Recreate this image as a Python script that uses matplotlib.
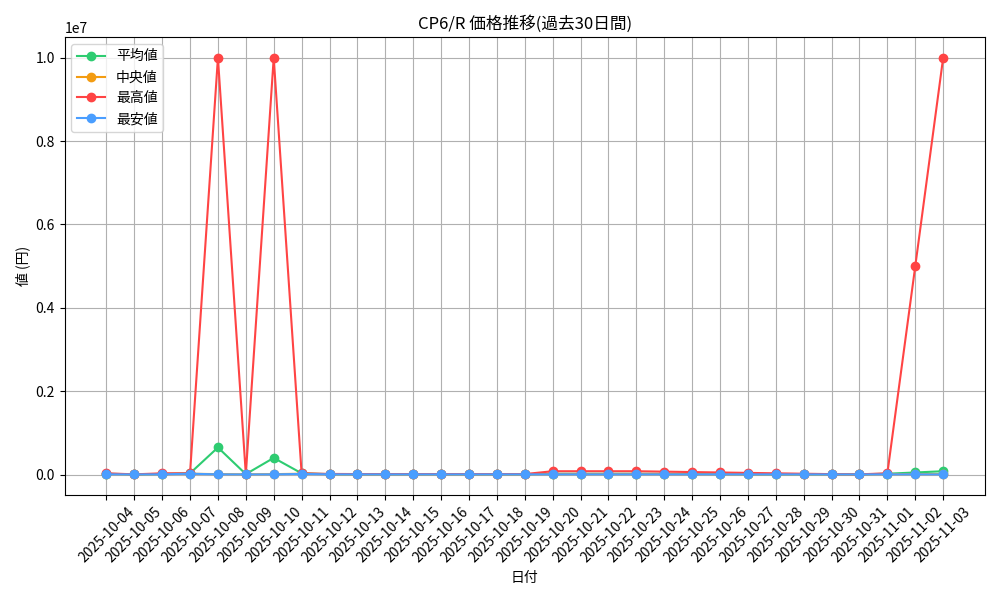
import matplotlib
matplotlib.use("Agg")
import matplotlib.pyplot as plt

plt.rcParams['font.family'] = ['Noto Sans CJK JP', 'DejaVu Sans']

dates = ["2025-10-04","2025-10-05","2025-10-06","2025-10-07","2025-10-08","2025-10-09","2025-10-10",
         "2025-10-11","2025-10-12","2025-10-13","2025-10-14","2025-10-15","2025-10-16","2025-10-17",
         "2025-10-18","2025-10-19","2025-10-20","2025-10-21","2025-10-22","2025-10-23","2025-10-24",
         "2025-10-25","2025-10-26","2025-10-27","2025-10-28","2025-10-29","2025-10-30","2025-10-31",
         "2025-11-01","2025-11-02","2025-11-03"]
mean_v = [20000,5000,15000,30000,650000,10000,400000,30000,10000,8000,8000,8000,8000,8000,8000,8000,
          20000,20000,20000,20000,18000,15000,12000,10000,8000,8000,6000,5000,20000,50000,80000]
median_v = [10000,5000,10000,20000,10000,5000,10000,20000,8000,6000,6000,6000,6000,6000,6000,6000,
            10000,10000,10000,10000,10000,8000,8000,6000,6000,6000,5000,4000,10000,10000,10000]
max_v = [30000,5000,30000,30000,10000000,10000,10000000,30000,15000,12000,12000,12000,12000,12000,12000,12000,
         80000,80000,80000,80000,70000,60000,50000,40000,30000,20000,10000,5000,30000,5000000,10000000]
min_v = [5000,3000,5000,20000,5000,3000,5000,15000,5000,4000,4000,4000,4000,4000,4000,4000,
         5000,5000,5000,5000,5000,5000,5000,4000,4000,4000,3000,3000,5000,5000,3000]

fig, ax = plt.subplots(figsize=(10, 6), dpi=100)
ax.plot(dates, mean_v, marker='o', color='#2ecc71', label='平均値')
ax.plot(dates, median_v, marker='o', color='#f39c12', label='中央値')
ax.plot(dates, max_v, marker='o', color='#ff4444', label='最高値')
ax.plot(dates, min_v, marker='o', color='#4a9eff', label='最安値')
ax.set_title('CP6/R 価格推移(過去30日間)')
ax.set_xlabel('日付')
ax.set_ylabel('値 (円)')
ax.grid(True)
ax.legend(loc='upper left')
plt.xticks(rotation=45)
plt.tight_layout()
plt.savefig('out.png')
